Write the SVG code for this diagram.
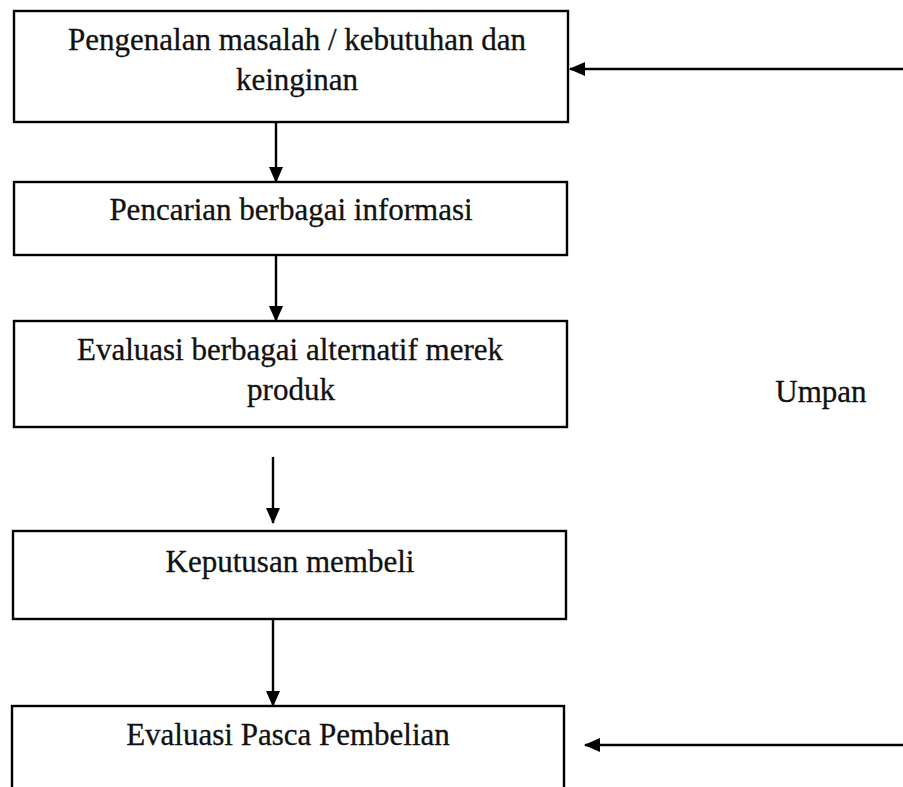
<svg xmlns="http://www.w3.org/2000/svg" width="903" height="787" viewBox="0 0 903 787">
<defs>
<marker id="ah" markerWidth="16" markerHeight="14" refX="15" refY="7" orient="auto" markerUnits="userSpaceOnUse">
<path d="M0,0 L16,7 L0,14 Z" fill="#000"/>
</marker>
<style>
.box{fill:#fff;stroke:#000;stroke-width:2.4}
.t{font-family:"Liberation Serif","Times New Roman",serif;font-size:31px;fill:#111;stroke:#111;stroke-width:0.3;text-anchor:middle}
.c{stroke:#000;stroke-width:2.4;fill:none;marker-end:url(#ah)}
</style>
</defs>
<rect width="903" height="787" fill="#fff"/>
<g id="n1">
<rect class="box" x="14" y="11" width="554" height="111"/>
<text class="t" x="297" y="50">Pengenalan masalah / kebutuhan dan</text>
<text class="t" x="297" y="90">keinginan</text>
</g>
<g id="n2">
<rect class="box" x="14" y="182" width="553" height="73"/>
<text class="t" x="291" y="220">Pencarian berbagai informasi</text>
</g>
<g id="n3">
<rect class="box" x="14" y="321" width="553" height="106"/>
<text class="t" x="290" y="360">Evaluasi berbagai alternatif merek</text>
<text class="t" x="291" y="400">produk</text>
</g>
<g id="n4">
<rect class="box" x="13" y="531" width="553" height="88"/>
<text class="t" x="290" y="572">Keputusan membeli</text>
</g>
<g id="n5">
<rect class="box" x="12" y="706" width="552" height="100"/>
<text class="t" x="288" y="745">Evaluasi Pasca Pembelian</text>
</g>
<g id="lbl">
<text class="t" x="821" y="402">Umpan</text>
</g>
<g id="connectors">
<line class="c" x1="276" y1="122" x2="276" y2="182"/>
<line class="c" x1="276" y1="255" x2="276" y2="321"/>
<line class="c" x1="273" y1="457" x2="273" y2="523"/>
<line class="c" x1="273" y1="619" x2="273" y2="706"/>
<line class="c" x1="903" y1="69" x2="570" y2="69"/>
<line class="c" x1="903" y1="745" x2="585" y2="745"/>
</g>
</svg>
